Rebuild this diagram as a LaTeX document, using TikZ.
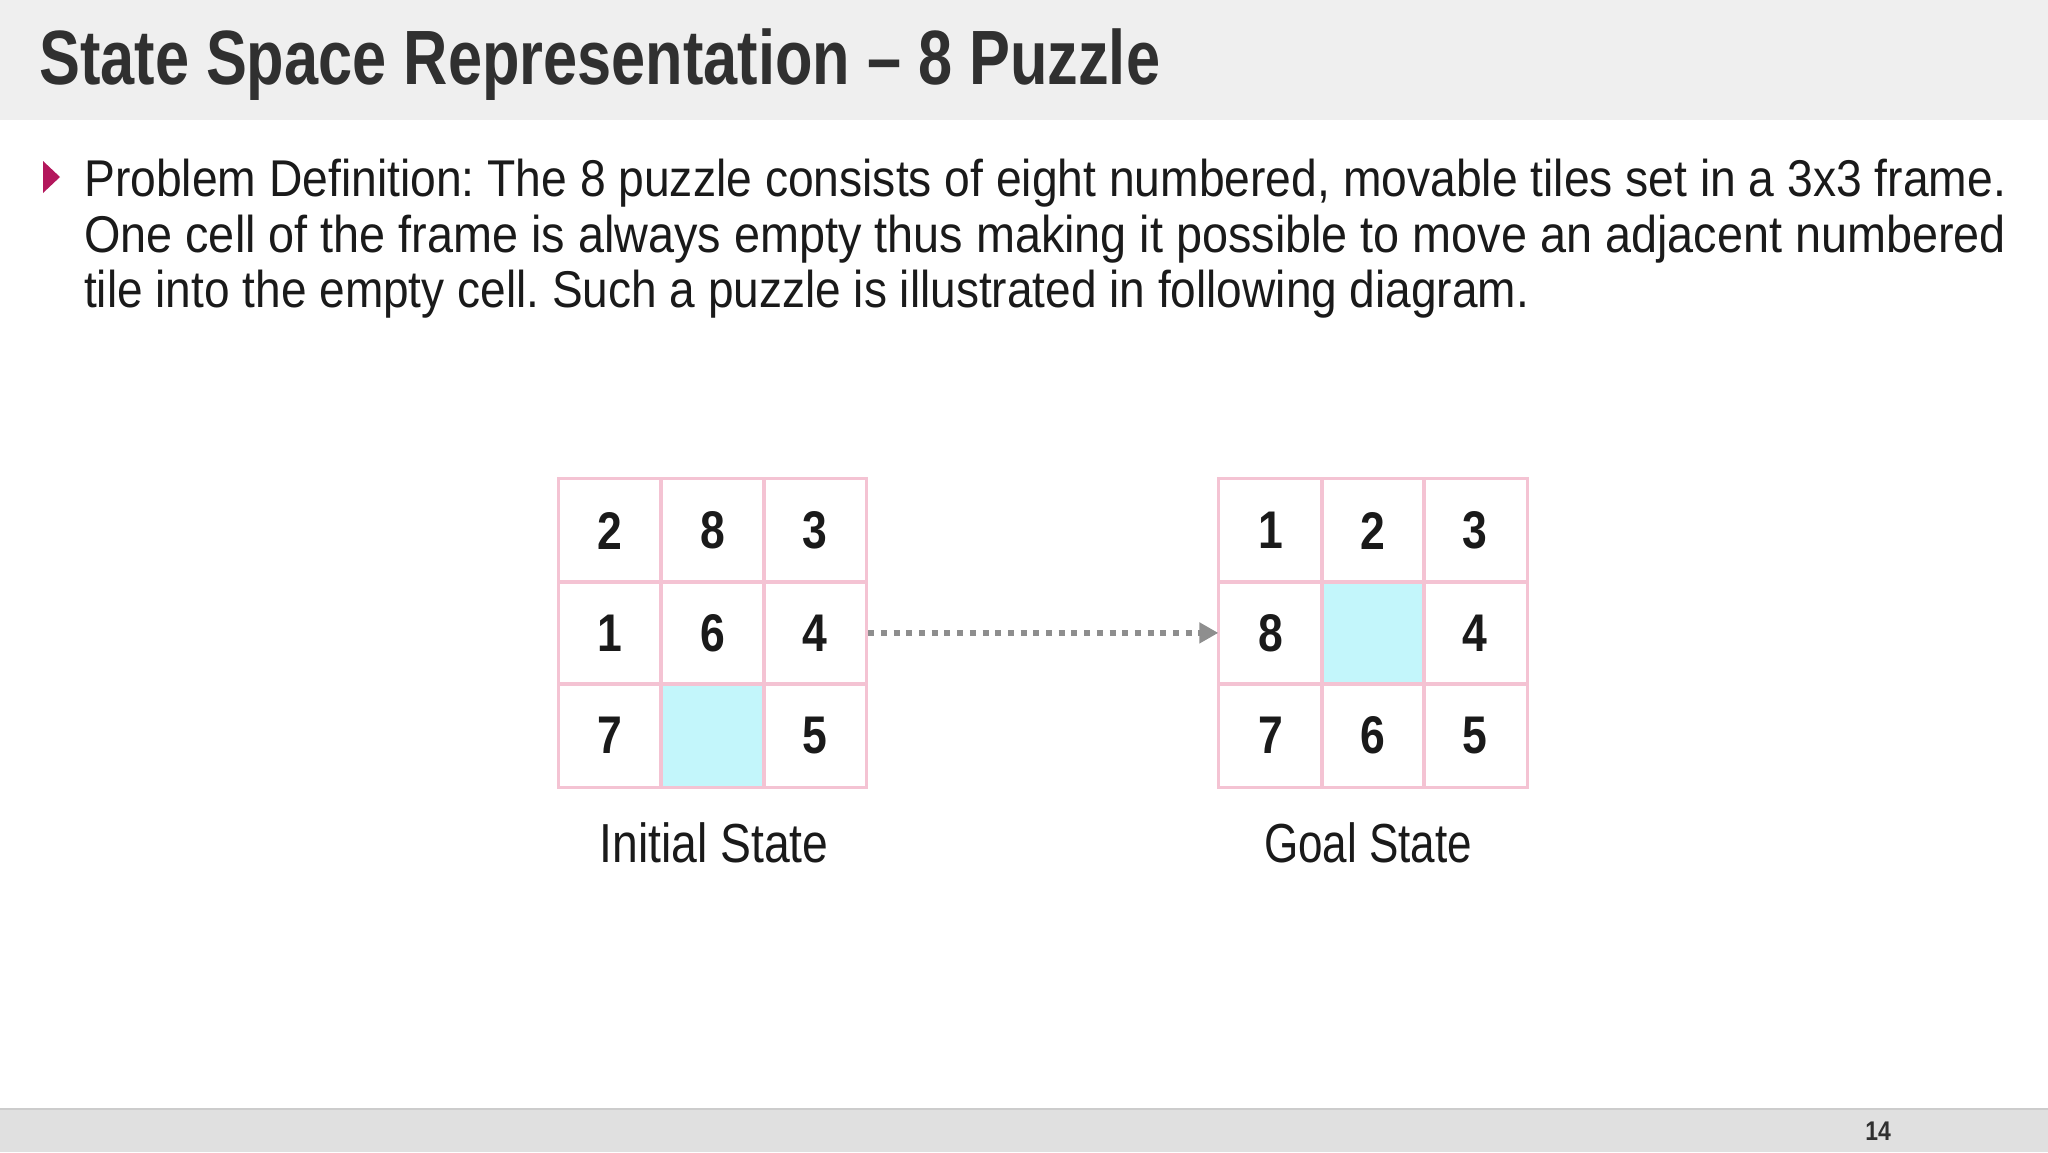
\documentclass[tikz,border=0pt]{standalone}
\usepackage{fontspec}
\usepackage{graphicx}
\setmainfont{Liberation Sans}
\usetikzlibrary{arrows.meta}
\frenchspacing
\definecolor{hdrbg}{HTML}{EFEFEF}
\definecolor{ftrbg}{HTML}{E0E0E0}
\definecolor{ftrline}{HTML}{CCCCCC}
\definecolor{titlecol}{HTML}{303030}
\definecolor{bodycol}{HTML}{1A1A1A}
\definecolor{bulletcol}{HTML}{B3175C}
\definecolor{cellline}{HTML}{F4C3D3}
\definecolor{emptycell}{HTML}{C3F6FB}
\definecolor{arrowcol}{HTML}{8E8E8E}
\newlength\fitwd
\newcommand\fitw[2]{\settowidth{\fitwd}{#2}\pgfmathsetmacro\fitsx{#1/\fitwd}\scalebox{\fitsx}[1]{#2}}
\tikzset{
  cell/.style={draw=cellline, line width=2pt, minimum size=102.4pt, inner sep=0pt, fill=white,
    font=\bfseries\fontsize{53}{53}\selectfont, text=bodycol},
  emptyc/.style={cell, fill=emptycell},
  bodytext/.style={anchor=base west, inner sep=0pt, text=bodycol, font=\fontsize{51.7}{60}\selectfont},
  caption/.style={anchor=base, inner sep=0pt, text=bodycol, font=\fontsize{55}{60}\selectfont},
}
\newcommand\dg[1]{\scalebox{0.84}[1]{#1}}
\begin{document}
\begin{tikzpicture}[x=1pt,y=-1pt]
\useasboundingbox (0,0) rectangle (2048,1152);
\fill[white] (0,0) rectangle (2048,1152);
% header
\fill[hdrbg] (0,0) rectangle (2048,120);
\node[anchor=base west, inner sep=0pt, text=titlecol, font=\bfseries\fontsize{77}{80}\selectfont] (title) at (39,84)
  {\fitw{1121pt}{State Space Representation – 8 Puzzle}};
% bullet
\fill[bulletcol] (43,161) -- (43,193) -- (60,177) -- cycle;
\node[bodytext] (l1) at (84,196) {\fitw{1922pt}{Problem Definition: The 8 puzzle consists of eight numbered, movable tiles set in a 3x3 frame.}};
\node[bodytext] (l2) at (84,252) {\fitw{1922pt}{One cell of the frame is always empty thus making it possible to move an adjacent numbered}};
\node[bodytext] (l3) at (84,307) {\fitw{1445pt}{tile into the empty cell. Such a puzzle is illustrated in following diagram.}};
% initial grid
\node[cell] (i11) at (610.2,530.5) {\dg{2}};
\node[cell] (i12) at (712.6,530.5) {\dg{8}};
\node[cell] (i13) at (815.0,530.5) {\dg{3}};
\node[cell] (i21) at (610.2,632.9) {\dg{1}};
\node[cell] (i22) at (712.6,632.9) {\dg{6}};
\node[cell] (i23) at (815.0,632.9) {\dg{4}};
\node[cell] (i31) at (610.2,735.3) {\dg{7}};
\node[emptyc] (i32) at (712.6,735.3) {};
\node[cell] (i33) at (815.0,735.3) {\dg{5}};
% goal grid
\node[cell] (g11) at (1270.5,530.5) {\dg{1}};
\node[cell] (g12) at (1372.9,530.5) {\dg{2}};
\node[cell] (g13) at (1475.3,530.5) {\dg{3}};
\node[cell] (g21) at (1270.5,632.9) {\dg{8}};
\node[emptyc] (g22) at (1372.9,632.9) {};
\node[cell] (g23) at (1475.3,632.9) {\dg{4}};
\node[cell] (g31) at (1270.5,735.3) {\dg{7}};
\node[cell] (g32) at (1372.9,735.3) {\dg{6}};
\node[cell] (g33) at (1475.3,735.3) {\dg{5}};
% redraw borders on top
\foreach \n in {i11,i12,i13,i21,i22,i23,i31,i32,i33,g11,g12,g13,g21,g22,g23,g31,g32,g33}
  \draw[cellline, line width=2pt] (\n.north west) rectangle (\n.south east);
% arrow
\draw[arrowcol, line width=6pt, dash pattern=on 6pt off 6.7pt, -{Triangle[length=19pt,width=20pt]}]
  ([xshift=1pt]i23.east) -- (g21.west);
% captions
\node[caption] (cap1) at (714,862) {\fitw{229pt}{Initial State}};
\node[caption] (cap2) at (1368,862) {\fitw{208pt}{Goal State}};
% footer
\fill[ftrbg] (0,1109) rectangle (2048,1152);
\draw[ftrline, line width=2pt] (0,1109) -- (2048,1109);
\node[anchor=base, inner sep=0pt, text=titlecol, font=\bfseries\fontsize{27}{30}\selectfont] (pg) at (1878,1140) {\scalebox{0.85}[1]{14}};
\end{tikzpicture}
\end{document}
